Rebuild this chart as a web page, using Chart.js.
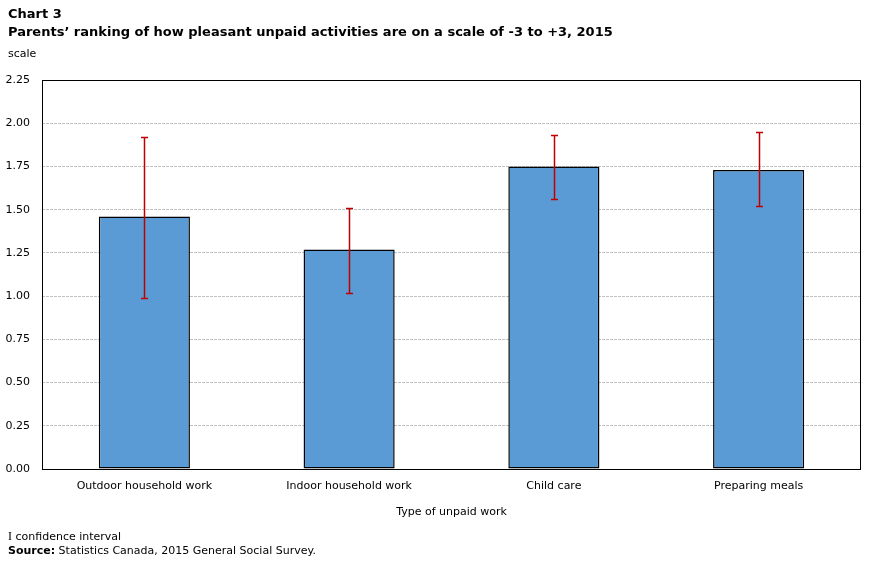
<!DOCTYPE html>
<html>
<head>
<meta charset="utf-8">
<script src="https://cdn.jsdelivr.net/npm/chart.js@4.4.1/dist/chart.umd.min.js"></script>
<style>
  body { margin: 0; background: #fff; font-family: Verdana, "DejaVu Sans", sans-serif; }
  #wrap { position: relative; width: 877px; height: 564px; overflow: hidden; }
  #wrap canvas { position: absolute; left: 0; top: 0; }
  .txt { position: absolute; left: 8px; color: #000; white-space: nowrap; }
  .title { font-weight: bold; font-size: 13px; line-height: 15px; }
  .small { font-size: 11px; line-height: 13px; }
  .ci { font-family: "Liberation Serif", serif; font-size: 12px; }
</style>
</head>
<body>
<div id="wrap">
  <canvas id="chart" width="877" height="564"></canvas>
  <div class="txt title" style="top:6px">Chart 3</div>
  <div class="txt title" style="top:24px">Parents’ ranking of how pleasant unpaid activities are on a scale of -3 to +3, 2015</div>
  <div class="txt small" style="top:47px">scale</div>
  <div class="txt small" style="top:530px"><span class="ci">I</span> confidence interval</div>
  <div class="txt small" style="top:544px"><b>Source:</b> Statistics Canada, 2015 General Social Survey.</div>
</div>
<script>
// Chart data
const categories = ['Outdoor household work', 'Indoor household work', 'Child care', 'Preparing meals'];
const meanScores = [1.46, 1.27, 1.75, 1.73];
const ciLower = [0.99, 1.02, 1.56, 1.52];
const ciUpper = [1.92, 1.51, 1.93, 1.95];

// Draw the confidence intervals on top of the bars
const errorBars = {
    id: 'errorBars',
    afterDatasetsDraw(chart) {
        const ctx = chart.ctx;
        const yScale = chart.scales.y;
        const meta = chart.getDatasetMeta(0);
        ctx.save();
        ctx.strokeStyle = '#c00000';
        ctx.lineWidth = 1.5;
        meta.data.forEach((bar, i) => {
            const x = Math.round(bar.x) + 0.5;
            const yLo = Math.round(yScale.getPixelForValue(ciLower[i])) + 0.5;
            const yHi = Math.round(yScale.getPixelForValue(ciUpper[i])) + 0.5;
            ctx.beginPath();
            ctx.moveTo(x, yLo);
            ctx.lineTo(x, yHi);
            ctx.moveTo(x - 3.5, yLo);
            ctx.lineTo(x + 3.5, yLo);
            ctx.moveTo(x - 3.5, yHi);
            ctx.lineTo(x + 3.5, yHi);
            ctx.stroke();
        });
        ctx.restore();
    }
};

// Black frame round the plot area
const plotFrame = {
    id: 'plotFrame',
    afterDraw(chart) {
        const a = chart.chartArea;
        const ctx = chart.ctx;
        ctx.save();
        ctx.strokeStyle = '#000';
        ctx.lineWidth = 1;
        ctx.strokeRect(Math.round(a.left) + 0.5, Math.round(a.top) + 0.5,
            Math.round(a.right - a.left) - 1, Math.round(a.bottom - a.top));
        ctx.restore();
    }
};

new Chart(document.getElementById('chart'), {
    type: 'bar',
    data: {
        labels: categories,
        datasets: [{
            data: meanScores,
            backgroundColor: '#5b9bd5',
            borderColor: '#000',
            borderWidth: 1.5,
            borderSkipped: false,
            barPercentage: 0.445,
            categoryPercentage: 1
        }]
    },
    options: {
        responsive: false,
        animation: false,
        layout: { padding: { left: 0, right: 16, top: 80, bottom: 41 } },
        plugins: {
            legend: { display: false },
            tooltip: { enabled: false }
        },
        scales: {
            x: {
                grid: { display: false },
                border: { display: false },
                ticks: {
                    color: '#000',
                    padding: 3,
                    font: { family: 'Verdana, "DejaVu Sans", sans-serif', size: 11 }
                },
                title: {
                    display: true,
                    text: 'Type of unpaid work',
                    color: '#000',
                    padding: { top: 0, bottom: 4 },
                    font: { family: 'Verdana, "DejaVu Sans", sans-serif', size: 11 }
                },
                afterFit(scale) { scale.height = 54; }
            },
            y: {
                min: 0,
                max: 2.25,
                grid: { color: '#c0c0c0', drawTicks: false },
                border: { display: false, dash: [3, 1] },
                ticks: {
                    stepSize: 0.25,
                    color: '#000',
                    padding: 12,
                    font: { family: 'Verdana, "DejaVu Sans", sans-serif', size: 11 },
                    callback: v => v.toFixed(2)
                },
                afterFit(scale) { scale.width = 42; }
            }
        }
    },
    plugins: [errorBars, plotFrame]
});
</script>
</body>
</html>
